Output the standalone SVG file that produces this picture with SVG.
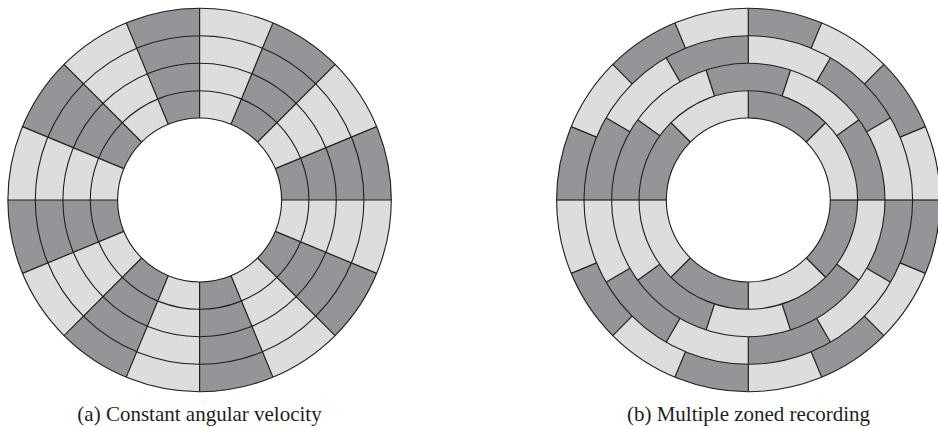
<svg xmlns="http://www.w3.org/2000/svg" width="938" height="428" viewBox="0 0 938 428">
<style>
.dk{fill:#939598;stroke:none}
.ln{fill:none;stroke:#231f20;stroke-width:1.1}
.rd{stroke:#231f20;stroke-width:1.2}
.cap{font-family:"Liberation Serif","Times New Roman",serif;font-size:21px;fill:#231f20}
</style>
<defs>
<path id="wa" class="dk" d="M0,-191.7A191.7,191.7 0 0 1 73.36,-177.11L31.38,-75.76A82,82 0 0 0 0,-82Z"/>
<path id="w4" class="dk" d="M0,-191.7A191.7,191.7 0 0 1 73.36,-177.11L62.87,-151.79A164.3,164.3 0 0 0 0,-164.3Z"/>
<path id="w3" class="dk" d="M0,-164.3A164.3,164.3 0 0 1 82.15,-142.29L68.35,-118.38A136.7,136.7 0 0 0 0,-136.7Z"/>
<path id="w2" class="dk" d="M-42.24,-130.01A136.7,136.7 0 0 1 42.24,-130.01L33.78,-103.95A109.3,109.3 0 0 0 -33.78,-103.95Z"/>
<path id="w1" class="dk" d="M0,-109.3A109.3,109.3 0 0 1 77.29,-77.29L57.98,-57.98A82,82 0 0 0 0,-82Z"/>
<line id="fr" class="rd" x1="0" y1="-191.7" x2="0" y2="-82"/>
<line id="r4" class="rd" x1="0" y1="-191.7" x2="0" y2="-164.3"/>
<line id="r3" class="rd" x1="0" y1="-164.3" x2="0" y2="-136.7"/>
<line id="r2" class="rd" x1="0" y1="-136.7" x2="0" y2="-109.3"/>
<line id="r1" class="rd" x1="0" y1="-109.3" x2="0" y2="-82"/>
<g id="circles">
<circle class="ln" r="191.7"/><circle class="ln" r="164.3"/><circle class="ln" r="136.7"/><circle class="ln" r="109.3"/><circle class="ln" r="82"/>
</g>
</defs>
<rect width="938" height="428" fill="#ffffff"/>
<g id="disc-a" transform="translate(199.6 200)">
<circle r="137" fill="none" stroke="#dcddde" stroke-width="110"/>
<use href="#wa" transform="rotate(22.5)"/><use href="#wa" transform="rotate(67.5)"/><use href="#wa" transform="rotate(112.5)"/><use href="#wa" transform="rotate(157.5)"/><use href="#wa" transform="rotate(202.5)"/><use href="#wa" transform="rotate(247.5)"/><use href="#wa" transform="rotate(292.5)"/><use href="#wa" transform="rotate(337.5)"/>
<use href="#circles"/>
<use href="#fr"/><use href="#fr" transform="rotate(22.5)"/><use href="#fr" transform="rotate(45)"/><use href="#fr" transform="rotate(67.5)"/><use href="#fr" transform="rotate(90)"/><use href="#fr" transform="rotate(112.5)"/><use href="#fr" transform="rotate(135)"/><use href="#fr" transform="rotate(157.5)"/><use href="#fr" transform="rotate(180)"/><use href="#fr" transform="rotate(202.5)"/><use href="#fr" transform="rotate(225)"/><use href="#fr" transform="rotate(247.5)"/><use href="#fr" transform="rotate(270)"/><use href="#fr" transform="rotate(292.5)"/><use href="#fr" transform="rotate(315)"/><use href="#fr" transform="rotate(337.5)"/>
</g>
<g id="disc-b" transform="translate(748.3 200)">
<circle r="137" fill="none" stroke="#dcddde" stroke-width="110"/>
<use href="#w4"/><use href="#w4" transform="rotate(45)"/><use href="#w4" transform="rotate(90)"/><use href="#w4" transform="rotate(135)"/><use href="#w4" transform="rotate(180)"/><use href="#w4" transform="rotate(225)"/><use href="#w4" transform="rotate(270)"/><use href="#w4" transform="rotate(315)"/>
<use href="#w3" transform="rotate(30)"/><use href="#w3" transform="rotate(90)"/><use href="#w3" transform="rotate(150)"/><use href="#w3" transform="rotate(210)"/><use href="#w3" transform="rotate(270)"/><use href="#w3" transform="rotate(330)"/>
<use href="#w2"/><use href="#w2" transform="rotate(72)"/><use href="#w2" transform="rotate(144)"/><use href="#w2" transform="rotate(216)"/><use href="#w2" transform="rotate(288)"/>
<use href="#w1"/><use href="#w1" transform="rotate(90)"/><use href="#w1" transform="rotate(180)"/><use href="#w1" transform="rotate(270)"/>
<use href="#circles"/>
<use href="#r4"/><use href="#r4" transform="rotate(22.5)"/><use href="#r4" transform="rotate(45)"/><use href="#r4" transform="rotate(67.5)"/><use href="#r4" transform="rotate(90)"/><use href="#r4" transform="rotate(112.5)"/><use href="#r4" transform="rotate(135)"/><use href="#r4" transform="rotate(157.5)"/><use href="#r4" transform="rotate(180)"/><use href="#r4" transform="rotate(202.5)"/><use href="#r4" transform="rotate(225)"/><use href="#r4" transform="rotate(247.5)"/><use href="#r4" transform="rotate(270)"/><use href="#r4" transform="rotate(292.5)"/><use href="#r4" transform="rotate(315)"/><use href="#r4" transform="rotate(337.5)"/>
<use href="#r3"/><use href="#r3" transform="rotate(30)"/><use href="#r3" transform="rotate(60)"/><use href="#r3" transform="rotate(90)"/><use href="#r3" transform="rotate(120)"/><use href="#r3" transform="rotate(150)"/><use href="#r3" transform="rotate(180)"/><use href="#r3" transform="rotate(210)"/><use href="#r3" transform="rotate(240)"/><use href="#r3" transform="rotate(270)"/><use href="#r3" transform="rotate(300)"/><use href="#r3" transform="rotate(330)"/>
<use href="#r2" transform="rotate(18)"/><use href="#r2" transform="rotate(54)"/><use href="#r2" transform="rotate(90)"/><use href="#r2" transform="rotate(126)"/><use href="#r2" transform="rotate(162)"/><use href="#r2" transform="rotate(198)"/><use href="#r2" transform="rotate(234)"/><use href="#r2" transform="rotate(270)"/><use href="#r2" transform="rotate(306)"/><use href="#r2" transform="rotate(342)"/>
<use href="#r1"/><use href="#r1" transform="rotate(45)"/><use href="#r1" transform="rotate(90)"/><use href="#r1" transform="rotate(135)"/><use href="#r1" transform="rotate(180)"/><use href="#r1" transform="rotate(225)"/><use href="#r1" transform="rotate(270)"/><use href="#r1" transform="rotate(315)"/>
</g>
<text class="cap" x="199.5" y="421" text-anchor="middle">(a) Constant angular velocity</text>
<text class="cap" x="748.5" y="421" text-anchor="middle">(b) Multiple zoned recording</text>
</svg>
